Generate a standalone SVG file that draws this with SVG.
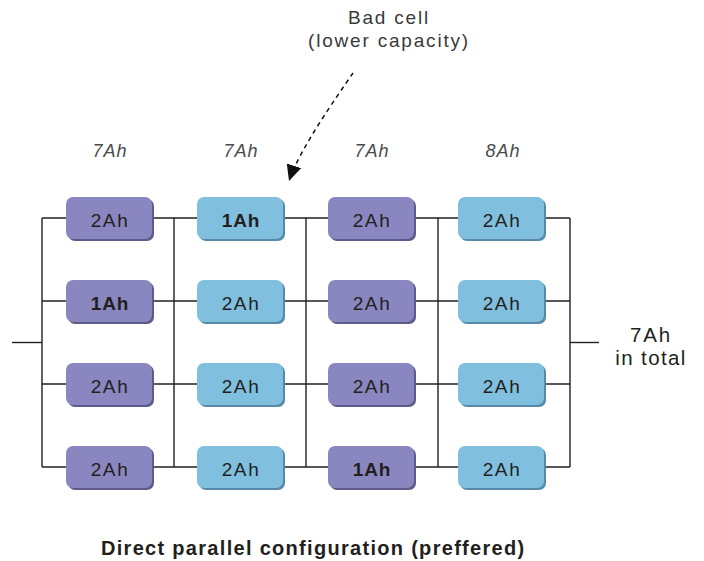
<svg xmlns="http://www.w3.org/2000/svg" width="704" height="561" viewBox="0 0 704 561">
<defs>
<style>
.wire{stroke:#231f20;stroke-width:1.4;fill:none}
.p{fill:#8a86bf}
.ps{fill:#5e5a8a}
.b{fill:#80bfde}
.bs{fill:#568aa8}
.lbl{font-family:"Liberation Sans",Arial,sans-serif;font-size:19px;letter-spacing:1.6px;fill:#231f20;text-anchor:middle}
.bold{font-weight:bold;letter-spacing:0.8px}
.cap{font-family:"Liberation Sans",Arial,sans-serif;font-size:18px;font-style:italic;letter-spacing:1px;fill:#4a4a4a;text-anchor:middle}
.note{font-family:"Liberation Sans",Arial,sans-serif;font-size:19px;letter-spacing:1.8px;fill:#3a3a3a;text-anchor:middle}
.title{font-family:"Liberation Sans",Arial,sans-serif;font-size:20px;font-weight:bold;letter-spacing:1.3px;fill:#231f20}
</style>
<marker id="ah" markerUnits="userSpaceOnUse" markerWidth="16" markerHeight="15" viewBox="0 0 16 15" refX="16" refY="7.5" orient="auto">
<path d="M0,0 L16,7.5 L0,15 z" fill="#111"/>
</marker>
</defs>
<rect width="704" height="561" fill="#fff"/>

<g id="connectors">
<line class="wire" x1="12" y1="342.5" x2="42" y2="342.5"/>
<line class="wire" x1="570" y1="342.5" x2="599" y2="342.5"/>
<line class="wire" x1="42" y1="218" x2="42" y2="467"/>
<line class="wire" x1="174" y1="218" x2="174" y2="467"/>
<line class="wire" x1="306" y1="218" x2="306" y2="467"/>
<line class="wire" x1="438" y1="218" x2="438" y2="467"/>
<line class="wire" x1="570" y1="218" x2="570" y2="467"/>
<line class="wire" x1="42" y1="218" x2="570" y2="218"/>
<line class="wire" x1="42" y1="301" x2="570" y2="301"/>
<line class="wire" x1="42" y1="384" x2="570" y2="384"/>
<line class="wire" x1="42" y1="467" x2="570" y2="467"/>
<path d="M353,73 C338,95 299,150 289,181" fill="none" stroke="#111" stroke-width="1.5" stroke-dasharray="4.5 4" marker-end="url(#ah)"/>
</g>

<g id="col1">
<g id="c1r1"><rect class="ps" x="68" y="199" width="86" height="42" rx="7"/><rect class="p" x="66" y="197" width="86" height="42" rx="7"/><text class="lbl" x="110" y="226.5">2Ah</text></g>
<g id="c1r2"><rect class="ps" x="68" y="282" width="86" height="42" rx="7"/><rect class="p" x="66" y="280" width="86" height="42" rx="7"/><text class="lbl bold" x="110" y="309.5">1Ah</text></g>
<g id="c1r3"><rect class="ps" x="68" y="365" width="86" height="42" rx="7"/><rect class="p" x="66" y="363" width="86" height="42" rx="7"/><text class="lbl" x="110" y="392.5">2Ah</text></g>
<g id="c1r4"><rect class="ps" x="68" y="448" width="86" height="42" rx="7"/><rect class="p" x="66" y="446" width="86" height="42" rx="7"/><text class="lbl" x="110" y="475.5">2Ah</text></g>
</g>
<g id="col2">
<g id="c2r1"><rect class="bs" x="199" y="199" width="86" height="42" rx="7"/><rect class="b" x="197" y="197" width="86" height="42" rx="7"/><text class="lbl bold" x="241" y="226.5">1Ah</text></g>
<g id="c2r2"><rect class="bs" x="199" y="282" width="86" height="42" rx="7"/><rect class="b" x="197" y="280" width="86" height="42" rx="7"/><text class="lbl" x="241" y="309.5">2Ah</text></g>
<g id="c2r3"><rect class="bs" x="199" y="365" width="86" height="42" rx="7"/><rect class="b" x="197" y="363" width="86" height="42" rx="7"/><text class="lbl" x="241" y="392.5">2Ah</text></g>
<g id="c2r4"><rect class="bs" x="199" y="448" width="86" height="42" rx="7"/><rect class="b" x="197" y="446" width="86" height="42" rx="7"/><text class="lbl" x="241" y="475.5">2Ah</text></g>
</g>
<g id="col3">
<g id="c3r1"><rect class="ps" x="330" y="199" width="86" height="42" rx="7"/><rect class="p" x="328" y="197" width="86" height="42" rx="7"/><text class="lbl" x="372" y="226.5">2Ah</text></g>
<g id="c3r2"><rect class="ps" x="330" y="282" width="86" height="42" rx="7"/><rect class="p" x="328" y="280" width="86" height="42" rx="7"/><text class="lbl" x="372" y="309.5">2Ah</text></g>
<g id="c3r3"><rect class="ps" x="330" y="365" width="86" height="42" rx="7"/><rect class="p" x="328" y="363" width="86" height="42" rx="7"/><text class="lbl" x="372" y="392.5">2Ah</text></g>
<g id="c3r4"><rect class="ps" x="330" y="448" width="86" height="42" rx="7"/><rect class="p" x="328" y="446" width="86" height="42" rx="7"/><text class="lbl bold" x="372" y="475.5">1Ah</text></g>
</g>
<g id="col4">
<g id="c4r1"><rect class="bs" x="460" y="199" width="86" height="42" rx="7"/><rect class="b" x="458" y="197" width="86" height="42" rx="7"/><text class="lbl" x="502" y="226.5">2Ah</text></g>
<g id="c4r2"><rect class="bs" x="460" y="282" width="86" height="42" rx="7"/><rect class="b" x="458" y="280" width="86" height="42" rx="7"/><text class="lbl" x="502" y="309.5">2Ah</text></g>
<g id="c4r3"><rect class="bs" x="460" y="365" width="86" height="42" rx="7"/><rect class="b" x="458" y="363" width="86" height="42" rx="7"/><text class="lbl" x="502" y="392.5">2Ah</text></g>
<g id="c4r4"><rect class="bs" x="460" y="448" width="86" height="42" rx="7"/><rect class="b" x="458" y="446" width="86" height="42" rx="7"/><text class="lbl" x="502" y="475.5">2Ah</text></g>
</g>

<g id="labels">
<text class="cap" x="110" y="157">7Ah</text>
<text class="cap" x="241" y="157">7Ah</text>
<text class="cap" x="372" y="157">7Ah</text>
<text class="cap" x="503" y="157">8Ah</text>
</g>
<g id="badcell">
<text class="note" x="389" y="24">Bad cell</text>
<text class="note" x="389" y="47">(lower capacity)</text>
</g>
<g id="total">
<text class="note" x="651" y="342" style="font-size:20.5px;fill:#231f20">7Ah</text>
<text class="note" x="651" y="365" style="font-size:20.5px;letter-spacing:1.4px;fill:#231f20">in total</text>
</g>
<text class="title" x="101" y="555">Direct parallel configuration (preffered)</text>
</svg>
